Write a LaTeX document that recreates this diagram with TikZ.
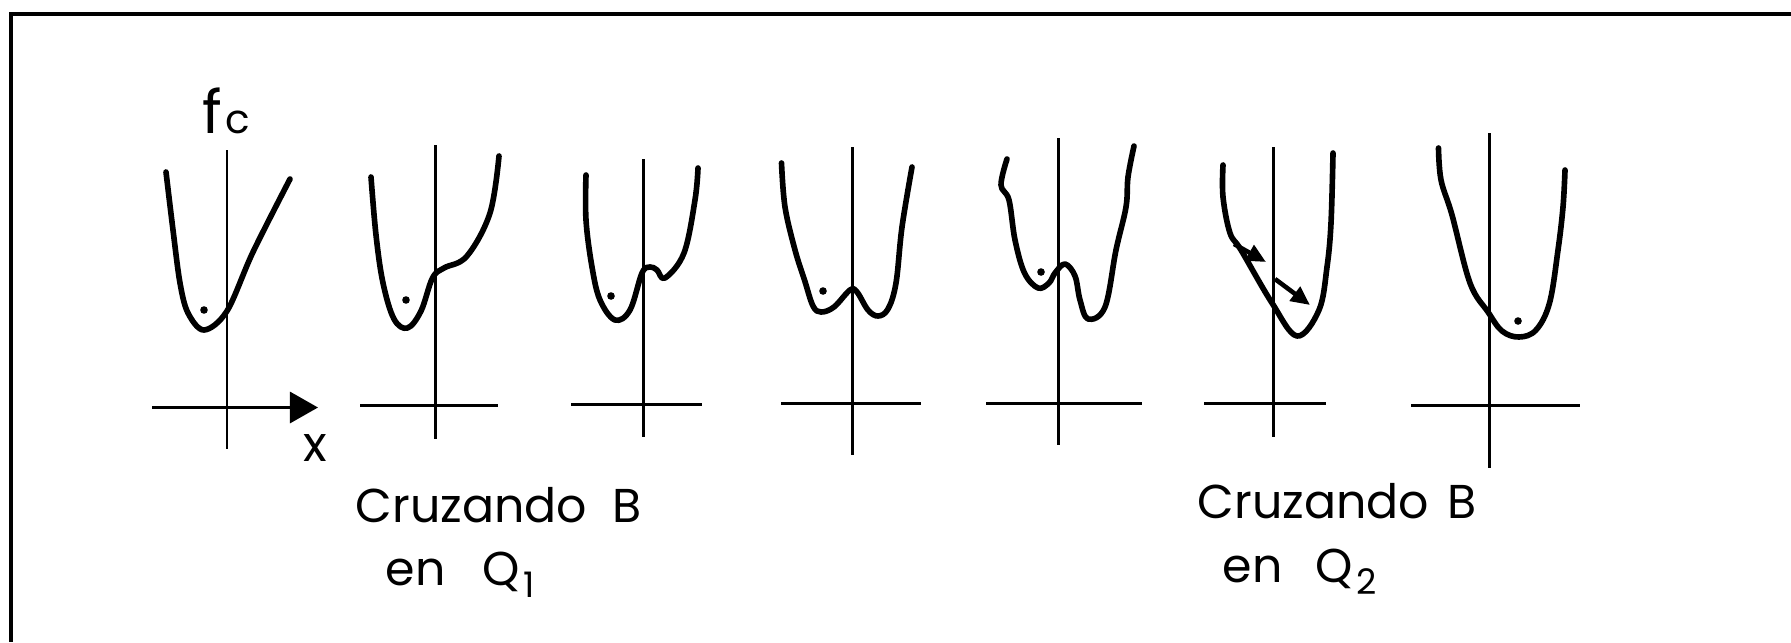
\documentclass[tikz,border=0pt]{standalone}
\usepackage{fontspec}
\setmainfont{Poppins}
\usetikzlibrary{arrows.meta}
\tikzset{
  frameline/.style={line width=1.1pt},
  axisline/.style={line width=0.85pt},
  curveline/.style={line width=1.6pt, line cap=round, line join=round},
  potdot/.style={fill=black},
  lbl/.style={anchor=base west, inner sep=0pt, font=\fontsize{13.5}{15}\selectfont},
  bigtip/.style={-{Triangle[length=2.8mm,width=3.1mm]}},
  smalltip/.style={-{Triangle[length=1.9mm,width=1.7mm]}, line width=1.3pt}
}
\begin{document}
\begin{tikzpicture}[x=0.01cm,y=-0.01cm]
\useasboundingbox (0,0) rectangle (1791,642);
% frame
\draw[frameline] (1791,14) -- (11,14) -- (11,642);

% panel 1
\draw[axisline] (227,150) -- (227,449);
\draw[axisline,bigtip] (152,407.5) -- (318,407.5);
\draw[curveline] plot[smooth,tension=0.55] coordinates {(166,172) (173,230) (180,283) (188,313) (204,330) (227,311) (253,252) (290,179)};
\fill[potdot] (204,310) circle (3.8);
\node[anchor=base west,inner sep=0pt] (fc) at (202,133) {\fontsize{17}{17}\selectfont f\kern1pt\fontsize{11.5}{12}\selectfont c};
\node[anchor=base west,inner sep=0pt] (xl) at (303,461) {\fontsize{14}{14}\selectfont x};

% panel 2
\draw[axisline] (435.5,145) -- (435.5,439);
\draw[axisline] (360,405) -- (497.5,405);
\draw[curveline] plot[smooth,tension=0.6] coordinates {(371,177) (376,235) (383,283) (394,319) (407.5,328) (421,311) (432.5,278) (444,268) (467,256) (490,213) (499,156)};
\fill[potdot] (406,300) circle (3.8);

% panel 3
\draw[axisline] (643,159) -- (643,437);
\draw[axisline] (571,404) -- (702,404);
\draw[curveline] plot[smooth,tension=0.6] coordinates {(586,175) (586,220) (592,267) (600,300) (615,320) (630,310) (642,273) (650,267) (657,270) (665,278) (684,253) (695,200) (698,168)};
\fill[potdot] (611,296) circle (3.8);

% panel 4
\draw[axisline] (852,147) -- (852,455);
\draw[axisline] (781,403) -- (921,403);
\draw[curveline] plot[smooth,tension=0.6] coordinates {(781.5,163) (785,207) (795,250) (804.5,280) (813,306) (821,312) (834,307) (850,290) (857,292) (868,310) (878,316) (888,309) (896,283) (902,227) (912,167)};
\fill[potdot] (823,291) circle (3.8);

% panel 5
\draw[axisline] (1058,138) -- (1058,445);
\draw[axisline] (986,403) -- (1142,403);
\draw[curveline] plot[smooth,tension=0.6] coordinates {(1007,159) (1001,185) (1009,200) (1015,240) (1024.5,273) (1038,288) (1049,283) (1055,273) (1065,264) (1075,276) (1080,300) (1088,319) (1105,307) (1116,250) (1126,207) (1128,177) (1134,146)};
\fill[potdot] (1041,272) circle (3.8);

% panel 6
\draw[axisline] (1273,147) -- (1273,437);
\draw[axisline] (1204,403) -- (1326,403);
\draw[curveline] plot[smooth,tension=0.6] coordinates {(1223,165) (1223,197) (1230,233) (1241,250) (1272,303) (1297,336) (1319,310) (1327,267) (1331,223) (1333,153)};
\coordinate (a1s) at (1234,244);
\coordinate (a1e) at (1266,262);
\coordinate (a2s) at (1275,279);
\coordinate (a2e) at (1310,305);
\draw[smalltip] (a1s) -- (a1e);
\draw[smalltip] (a2s) -- (a2e);

% panel 7
\draw[axisline] (1489,133) -- (1489,468);
\draw[axisline] (1411,405) -- (1580,405);
\draw[curveline] plot[smooth,tension=0.6] coordinates {(1438.5,148) (1441,180) (1452,215) (1470,283) (1488,312) (1502,331) (1519,337) (1536,330) (1549.5,303) (1558,250) (1563,207) (1565,170)};
\fill[potdot] (1518,321) circle (3.8);

% labels
\node[lbl] (c1) at (355,522) {Cruzando};
\node[lbl] (b1) at (612,522) {B};
\node[lbl] (e1) at (385,585) {en};
\node[lbl] (q1) at (482,585) {Q\kern1pt\raisebox{-3.6pt}{\fontsize{10}{10}\selectfont 1}};
\node[lbl] (c2) at (1197,518) {Cruzando};
\node[lbl] (b2) at (1447,518) {B};
\node[lbl] (e2) at (1222,582) {en};
\node[lbl] (q2) at (1315,582) {Q\kern1pt\raisebox{-3.6pt}{\fontsize{10}{10}\selectfont 2}};
\end{tikzpicture}
\end{document}
